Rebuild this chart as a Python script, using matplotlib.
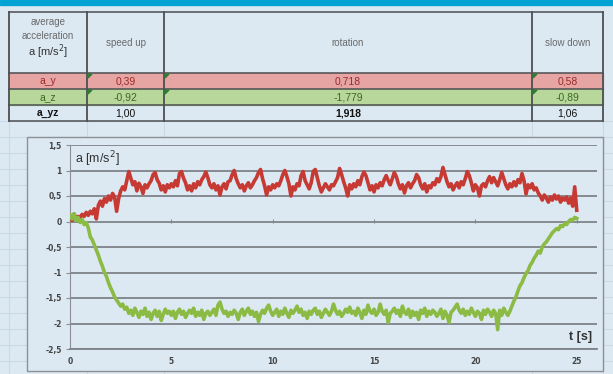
import matplotlib.pyplot as plt
from matplotlib.patches import Rectangle, Polygon
from matplotlib.ticker import FuncFormatter, MultipleLocator

# table contents
row_names = ['a_y', 'a_z', 'a_yz']
phases = ['speed up', 'rotation', 'slow down']
a_y_avg = ['0,39', '0,718', '0,58']
a_z_avg = ['-0,92', '-1,779', '-0,89']
a_yz_avg = ['1,00', '1,918', '1,06']

t_step = 0.1
a_y = [
    0.12, 0.02, 0.15, 0.05, 0.10, 0.08, 0.14, 0.10, 0.18, 0.12,
    0.20, 0.15, 0.25, 0.05, 0.32, 0.40, 0.30, 0.45, 0.38, 0.50,
    0.42, 0.55, 0.48, 0.20, 0.45, 0.60, 0.68, 0.62, 0.80, 0.98,
    0.85, 0.72, 0.78, 0.60, 0.75, 0.68, 0.55, 0.72, 0.66, 0.74,
    0.80, 0.92, 0.96, 0.82, 0.75, 0.62, 0.70, 0.58, 0.72, 0.66,
    0.74, 0.68, 0.80, 0.70, 0.94, 0.98, 0.85, 0.76, 0.62, 0.70,
    0.60, 0.74, 0.66, 0.78, 0.72, 0.82, 0.88, 0.97, 0.86, 0.72,
    0.66, 0.74, 0.62, 0.70, 0.52, 0.68, 0.74, 0.64, 0.78, 0.80,
    0.92, 1.00, 0.84, 0.74, 0.66, 0.72, 0.60, 0.70, 0.76, 0.66,
    0.72, 0.80, 0.86, 0.96, 1.02, 0.84, 0.70, 0.52, 0.68, 0.62,
    0.72, 0.66, 0.74, 0.70, 0.80, 0.92, 1.00, 0.88, 0.74, 0.50,
    0.68, 0.62, 0.74, 0.70, 0.90, 0.98, 0.80, 0.72, 0.64, 0.76,
    0.98, 1.02, 0.86, 0.70, 0.58, 0.66, 0.74, 0.68, 0.62, 0.72,
    0.70, 0.78, 0.86, 1.04, 0.92, 0.78, 0.66, 0.50, 0.72, 0.64,
    0.74, 0.68, 0.80, 0.72, 0.88, 0.97, 0.90, 0.76, 0.62, 0.70,
    0.58, 0.72, 0.66, 0.76, 0.70, 0.82, 0.90, 0.80, 0.72, 0.84,
    0.96, 0.88, 0.74, 0.64, 0.72, 0.56, 0.70, 0.76, 0.66, 0.74,
    0.80, 0.92, 0.86, 0.72, 0.64, 0.74, 0.58, 0.70, 0.66, 0.76,
    0.72, 0.84, 0.78, 0.88, 1.06, 0.92, 0.78, 0.68, 0.74, 0.62,
    0.70, 0.76, 0.66, 0.78, 0.72, 0.84, 0.98, 0.90, 0.76, 0.60,
    0.72, 0.66, 0.50, 0.70, 0.74, 0.68, 0.80, 0.88, 0.76, 0.86,
    0.78, 0.70, 0.82, 0.96, 0.84, 0.72, 0.64, 0.74, 0.68, 0.78,
    0.70, 0.82, 0.76, 0.94, 0.80, 0.54, 0.72, 0.66, 0.74, 0.62,
    0.66, 0.56, 0.50, 0.42, 0.52, 0.46, 0.38, 0.48, 0.42, 0.52,
    0.44, 0.50, 0.38, 0.46, 0.42, 0.48, 0.36, 0.46, 0.30, 0.68,
    0.22,
]
a_z = [
    0.12, 0.05, 0.15, 0.02, 0.08, -0.02, 0.04, -0.06, -0.02, -0.12,
    -0.30, -0.36, -0.46, -0.56, -0.66, -0.78, -0.88, -1.00, -1.08, -1.20,
    -1.30, -1.38, -1.48, -1.54, -1.60, -1.66, -1.62, -1.72, -1.68, -1.80,
    -1.74, -1.84, -1.70, -1.78, -1.88, -1.76, -1.82, -1.70, -1.86, -1.78,
    -1.92, -1.80, -1.74, -1.86, -1.76, -1.94, -1.82, -1.72, -1.80, -1.76,
    -1.84, -1.76, -1.90, -1.78, -1.72, -1.82, -1.76, -1.88, -1.80, -1.74,
    -1.80, -1.70, -1.86, -1.78, -1.84, -1.74, -1.92, -1.80, -1.76, -1.84,
    -1.78, -1.72, -1.84, -1.64, -1.58, -1.72, -1.80, -1.76, -1.86, -1.78,
    -1.82, -1.74, -1.80, -1.92, -1.78, -1.72, -1.84, -1.76, -1.70, -1.82,
    -1.76, -1.86, -1.78, -1.96, -1.82, -1.74, -1.80, -1.70, -1.64, -1.76,
    -1.84, -1.78, -1.72, -1.86, -1.76, -1.82, -1.70, -1.80, -1.88, -1.74,
    -1.80, -1.74, -1.66, -1.78, -1.72, -1.84, -1.78, -1.90, -1.76, -1.82,
    -1.74, -1.70, -1.82, -1.76, -1.88, -1.80, -1.72, -1.78, -1.84, -1.76,
    -1.62, -1.74, -1.82, -1.76, -1.86, -1.80, -1.72, -1.78, -1.68, -1.80,
    -1.76, -1.84, -1.70, -1.78, -1.90, -1.74, -1.82, -1.64, -1.76, -1.80,
    -1.72, -1.84, -1.78, -1.62, -1.76, -1.82, -1.74, -1.98, -1.80, -1.76,
    -1.70, -1.80, -1.74, -1.86, -1.66, -1.78, -1.82, -1.72, -1.88, -1.76,
    -1.84, -1.78, -1.92, -1.74, -1.80, -1.70, -1.86, -1.76, -1.82, -1.74,
    -1.78, -1.86, -1.80, -1.72, -1.90, -1.76, -1.84, -1.98, -1.78, -1.74,
    -1.68, -1.62, -1.74, -1.80, -1.72, -1.84, -1.76, -1.82, -1.70, -1.78,
    -1.86, -1.76, -1.80, -1.92, -1.74, -1.82, -1.72, -1.78, -1.86, -1.74,
    -1.80, -2.12, -1.74, -1.84, -1.70, -1.78, -1.84, -1.76, -1.66, -1.56,
    -1.48, -1.36, -1.26, -1.20, -1.10, -1.02, -0.96, -0.86, -0.80, -0.72,
    -0.66, -0.58, -0.62, -0.50, -0.44, -0.40, -0.34, -0.28, -0.22, -0.18,
    -0.14, -0.16, -0.08, -0.10, -0.04, -0.06, 0.00, 0.04, 0.02, 0.08,
    0.06,
]
t = [i * t_step for i in range(len(a_y))]

BG = '#dce9f3'
RED = '#c63a33'
GREEN = '#8cbb45'
W, H = 613, 374

fig = plt.figure(figsize=(W / 100, H / 100), dpi=100, facecolor=BG)

# full-figure canvas in pixel coords for the sheet + table
bg = fig.add_axes([0, 0, 1, 1])
bg.set_xlim(0, W)
bg.set_ylim(H, 0)
bg.axis('off')

# faint sheet grid
cols = [9, 87, 164, 532, 603]
for y in range(121, H, 16):
    bg.plot([0, W], [y, y], color='#c9d8e4', lw=0.8, zorder=0)
for x in cols:
    bg.plot([x, x], [121, H], color='#c9d8e4', lw=0.8, zorder=0)

# blue band at the top
bg.add_patch(Rectangle((0, 0), W, 5, color='#03a3d4', zorder=1))

# table
rows = [12, 73, 89, 105, 121]
bg.add_patch(Rectangle((cols[0], rows[1]), cols[-1] - cols[0], 16, color='#e6a4a3', zorder=1))
bg.add_patch(Rectangle((cols[0], rows[2]), cols[-1] - cols[0], 16, color='#b7d79b', zorder=1))
for x in cols:
    bg.plot([x, x], [rows[0], rows[-1]], color='#4d4f52', lw=1.3, zorder=2)
for y in rows:
    bg.plot([cols[0], cols[-1]], [y, y], color='#4d4f52', lw=1.1, zorder=2)

tkw = dict(ha='center', va='center', family='Liberation Sans', zorder=3)
hx = [(cols[i] + cols[i + 1]) / 2 for i in range(4)]
bg.text(hx[0], 22, 'average', size=7, color='#6a6a6a', **tkw)
bg.text(hx[0], 36, 'acceleration', size=7, color='#6a6a6a', **tkw)
bg.text(hx[0], 52, 'a [m/s$^2$]', size=8, color='#333333', **tkw)
for i, name in enumerate(phases):
    bg.text(hx[i + 1], 43, name, size=7, color='#6a6a6a', **tkw)

row_vals = [a_y_avg, a_z_avg, a_yz_avg]
row_cols = ['#9a2b2b', '#3d6a1f', '#111111']
for r, (name, vals, c) in enumerate(zip(row_names, row_vals, row_cols)):
    yc = (rows[r + 1] + rows[r + 2]) / 2
    bold = 'bold' if name == 'a_yz' else 'normal'
    bg.text(hx[0], yc, name, size=7.5, color=c, weight=bold, **tkw)
    for i, v in enumerate(vals):
        w = 'bold' if (name == 'a_yz' and i == 1) else 'normal'
        bg.text(hx[i + 1], yc, v, size=7.5, color=c, weight=w, **tkw)
    if r < 2:
        for x in cols[1:4]:
            y0 = rows[r + 1]
            bg.add_patch(Polygon([(x + 1, y0 + 1), (x + 5, y0 + 1), (x + 1, y0 + 5)],
                                 color='#2e7d32', zorder=3))

# chart frame
bg.add_patch(Rectangle((27, 137), 576, 234, facecolor=BG, edgecolor='#8c9096', lw=1, zorder=4))

# chart
ax = fig.add_axes([70 / W, 1 - 349 / H, (597 - 70) / W, (349 - 145) / H])
ax.set_facecolor('none')
ax.plot(t, a_y, color=RED, lw=2.6, zorder=3)
ax.plot(t, a_z, color=GREEN, lw=2.6, zorder=4)

ax.set_xlim(0, 26)
ax.set_ylim(-2.5, 1.5)
ax.set_xticks([0, 5, 10, 15, 20, 25])
ax.yaxis.set_major_locator(MultipleLocator(0.5))


def comma_fmt(v, pos):
    return ('%g' % v).replace('.', ',')


ax.yaxis.set_major_formatter(FuncFormatter(comma_fmt))
ax.xaxis.set_major_formatter(FuncFormatter(comma_fmt))

ax.grid(axis='y', color='#7e8389', lw=1.3)
ax.grid(axis='x', visible=False)
ygl = ax.get_ygridlines()
ygl[-1].set_color('#b8c2cb')
ygl[-1].set_linewidth(1.0)

for side in ['top', 'right']:
    ax.spines[side].set_visible(False)
ax.spines['left'].set_color('#8a8f95')
ax.spines['bottom'].set_color('#7e8389')
ax.spines['bottom'].set_linewidth(1.3)

ax.tick_params(axis='y', length=3, color='#8a8f95', labelsize=5.5, labelcolor='#444444', pad=3)
ax.tick_params(axis='x', length=0, labelsize=5.5, labelcolor='#444444', pad=6)
for lab in ax.get_xticklabels() + ax.get_yticklabels():
    lab.set_fontweight('bold')

# horizontal axis crosses at zero: small ticks on the zero line
sec = ax.secondary_xaxis(2.5 / 4)
sec.set_xticks([0, 5, 10, 15, 20, 25])
sec.tick_params(length=3, direction='inout', color='#8a8f95', labelbottom=False, labeltop=False)
sec.spines['bottom'].set_visible(False)
sec.spines['top'].set_visible(False)

ax.text(0.01, 0.93, 'a [m/s$^2$]', transform=ax.transAxes, size=9, color='#333333',
        family='Liberation Sans', va='center', ha='left')
ax.text(0.99, 0.06, 't [s]', transform=ax.transAxes, size=9, color='#333333',
        family='Liberation Sans', weight='bold', va='center', ha='right')

fig.savefig('out.png', dpi=100, facecolor=BG)
